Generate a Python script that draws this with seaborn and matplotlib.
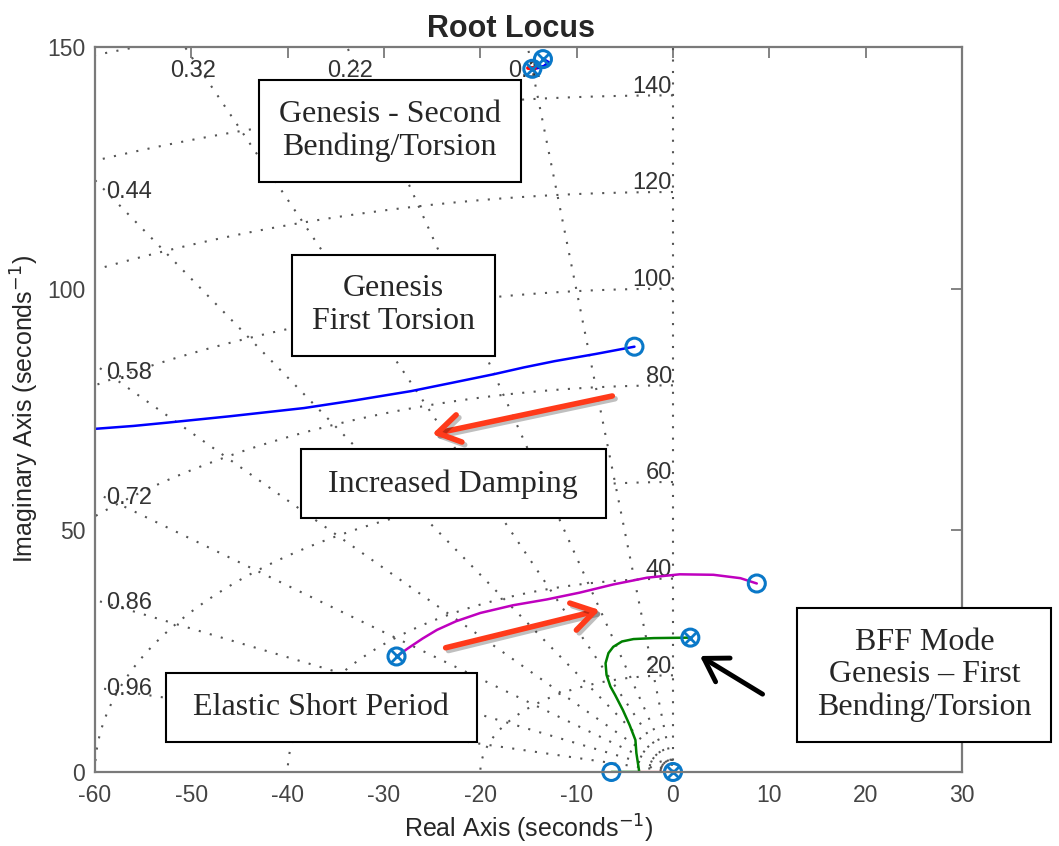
import numpy as np
import pandas as pd
import seaborn as sns
import matplotlib
matplotlib.use("Agg")
import matplotlib.pyplot as plt
import matplotlib.patheffects as pe

# sgrid values
zeta_vals = [0.1, 0.22, 0.32, 0.44, 0.58, 0.72, 0.86, 0.96]
wn_vals = [20, 40, 60, 80, 100, 120, 140]
wn_extra = [160, 1.5, 2.5]

# root loci (real, imag)
blue_re = [-60.0, -56.0, -52.4, -46.0, -38.3, -33.0, -27.2, -23.0, -18.6, -15.5, -12.3, -8.0, -4.0]
blue_im = [71.0, 71.6, 72.3, 73.6, 75.3, 76.9, 78.8, 80.5, 82.3, 83.7, 85.0, 86.5, 88.0]

mag_re = [-28.7, -27.5, -26.0, -24.5, -22.5, -20.0, -16.6, -13.1, -9.7, -6.2, -2.7, 0.7, 4.2, 7.0, 8.7]
mag_im = [23.9, 25.6, 27.6, 29.4, 31.2, 32.9, 34.5, 35.7, 37.1, 38.8, 40.2, 40.9, 40.8, 40.1, 39.0]

green_re = [-6.4, -3.5, -3.8, -3.9, -4.5, -5.2, -6.0, -6.5, -6.9, -7.0, -6.7, -6.2, -5.3, -4.1, -2.0, 1.8]
green_im = [0.0, 0.0, 3.9, 6.6, 9.7, 12.8, 15.9, 17.7, 20.1, 22.5, 24.6, 25.9, 27.0, 27.5, 27.7, 27.8]

red_re = [-3.5, 0.0]
red_im = [0.0, 0.0]

top_blue_re = [-14.3, -13.4, -12.9, -13.5]
top_blue_im = [145.6, 146.0, 146.8, 147.5]
top_red_re = [-15.1, -14.3]
top_red_im = [145.6, 145.6]

# pole / zero markers
open_re = [-6.4, 8.7, -4.0, -28.7, 1.8, -14.6, -13.5, 0.0]
open_im = [0.0, 39.0, 88.0, 23.9, 27.8, 145.5, 147.5, 0.0]
cross_re = [-28.7, 1.8, -14.6, -13.5, 0.0]
cross_im = [23.9, 27.8, 145.5, 147.5, 0.0]

sns.set_style("white")
plt.rcParams['font.family'] = ['Liberation Sans', 'DejaVu Sans']
plt.rcParams['axes.unicode_minus'] = False

fig = plt.figure(figsize=(10.59, 8.46), dpi=100)
ax = fig.add_axes([0.0897, 0.0875, 0.8187, 0.8569])

gcol = '#555555'
dots = (0, (1, 4.5))
lab_kw = dict(fontsize=17, color='#333333', zorder=2)

# damping lines
for z in zeta_vals:
    ang = np.arccos(z)
    ax.plot([0, -200 * np.cos(ang)], [0, 200 * np.sin(ang)], color=gcol, lw=1.5, ls=dots, zorder=1)
    slope = np.sin(ang) / np.cos(ang)
    if 58.8 * slope < 140:
        ax.text(-58.8, 58.8 * slope, f"{z:g}", ha='left', va='center', **lab_kw)
    else:
        ax.text(-145 / slope - 0.8, 145, f"{z:g}", ha='center', va='center', **lab_kw)
ax.plot([0, 0], [0, 200], color=gcol, lw=1.5, ls=dots, zorder=1)

# natural frequency circles
th = np.linspace(np.pi / 2, np.pi, 300)
for w in wn_vals + wn_extra:
    ax.plot(w * np.cos(th), w * np.sin(th), color=gcol, lw=1.5, ls=dots, zorder=1)
for w in wn_vals:
    ax.text(-0.1, w + 1.8, str(w), ha='right', va='center', **lab_kw)

# loci
lw = 1.8
sns.lineplot(x=blue_re, y=blue_im, sort=False, estimator=None, color='#0000ff', lw=lw, ax=ax, zorder=3)
sns.lineplot(x=mag_re, y=mag_im, sort=False, estimator=None, color='#bf00bf', lw=lw, ax=ax, zorder=3)
sns.lineplot(x=green_re, y=green_im, sort=False, estimator=None, color='#008000', lw=lw, ax=ax, zorder=3)
sns.lineplot(x=red_re, y=red_im, sort=False, estimator=None, color='#ff0000', lw=lw + 0.5, ax=ax, zorder=3)
sns.lineplot(x=top_blue_re, y=top_blue_im, sort=False, estimator=None, color='#0000ff', lw=lw + 0.5, ax=ax, zorder=3)
sns.lineplot(x=top_red_re, y=top_red_im, sort=False, estimator=None, color='#ff0000', lw=lw + 1, ax=ax, zorder=3)

mcol = '#0a78c8'
sns.scatterplot(x=open_re, y=open_im, marker='o', s=150, fc='none', ec=mcol, linewidth=2.2, ax=ax, zorder=4, clip_on=False)
sns.scatterplot(x=cross_re, y=cross_im, marker='x', s=80, color=mcol, linewidth=2.0, ax=ax, zorder=4, clip_on=False)

# annotations
box = dict(boxstyle='square,pad=0.62', fc='white', ec='black', lw=1.5)
tkw = dict(ha='center', va='center', fontsize=23, family=['Liberation Serif', 'DejaVu Serif'],
           bbox=box, zorder=6, linespacing=1.15)
ax.text(-29.4, 132.6, "Genesis - Second\nBending/Torsion", **tkw)
ax.text(-29.0, 96.6, "Genesis\nFirst Torsion", **tkw)
ax.text(-22.8, 59.6, " Increased Damping ", **tkw)
ax.text(-36.5, 13.4, " Elastic Short Period ", **tkw)
ax.text(26.1, 20.1, "BFF Mode\nGenesis \u2013 First\nBending/Torsion", clip_on=False, **tkw)

shadow = [pe.SimpleLineShadow(offset=(2, -2), alpha=0.25), pe.Normal()]
red_arrow = dict(arrowstyle='->,head_length=0.8,head_width=0.5', mutation_scale=20, color='#ff3a1a',
                 lw=4, shrinkA=0, shrinkB=0, path_effects=shadow)
ax.annotate('', xy=(-25.0, 69.9), xytext=(-6.3, 77.8), arrowprops=red_arrow, zorder=5)
ax.annotate('', xy=(-7.6, 33.5), xytext=(-23.6, 25.7), arrowprops=red_arrow, zorder=5)
ax.annotate('', xy=(2.8, 24.0), xytext=(9.3, 16.1),
            arrowprops=dict(arrowstyle='->,head_length=0.8,head_width=0.5', mutation_scale=20,
                            color='black', lw=3.5, shrinkA=0, shrinkB=0), zorder=5)

ax.set_xlim(-60, 30)
ax.set_ylim(0, 150)
ax.set_xticks(range(-60, 31, 10))
ax.set_yticks([0, 50, 100, 150])
ax.tick_params(direction='in', length=8, width=1.3, top=True, right=True, colors='#7a7a7a',
               labelcolor='#444444', labelsize=16.5)
ax.tick_params(axis='x', pad=9)
ax.tick_params(axis='y', pad=7)
for s in ax.spines.values():
    s.set_color('#7a7a7a')
    s.set_linewidth(1.6)
    s.set_zorder(5)

ax.set_title("Root Locus", fontsize=22, fontweight='bold', pad=7, x=0.48)
ax.set_xlabel("Real Axis (seconds$^{-1}$)", fontsize=18, color='#262626', labelpad=4)
ax.set_ylabel("Imaginary Axis (seconds$^{-1}$)", fontsize=18, color='#262626', labelpad=4)

fig.savefig("out.png", dpi=100)
